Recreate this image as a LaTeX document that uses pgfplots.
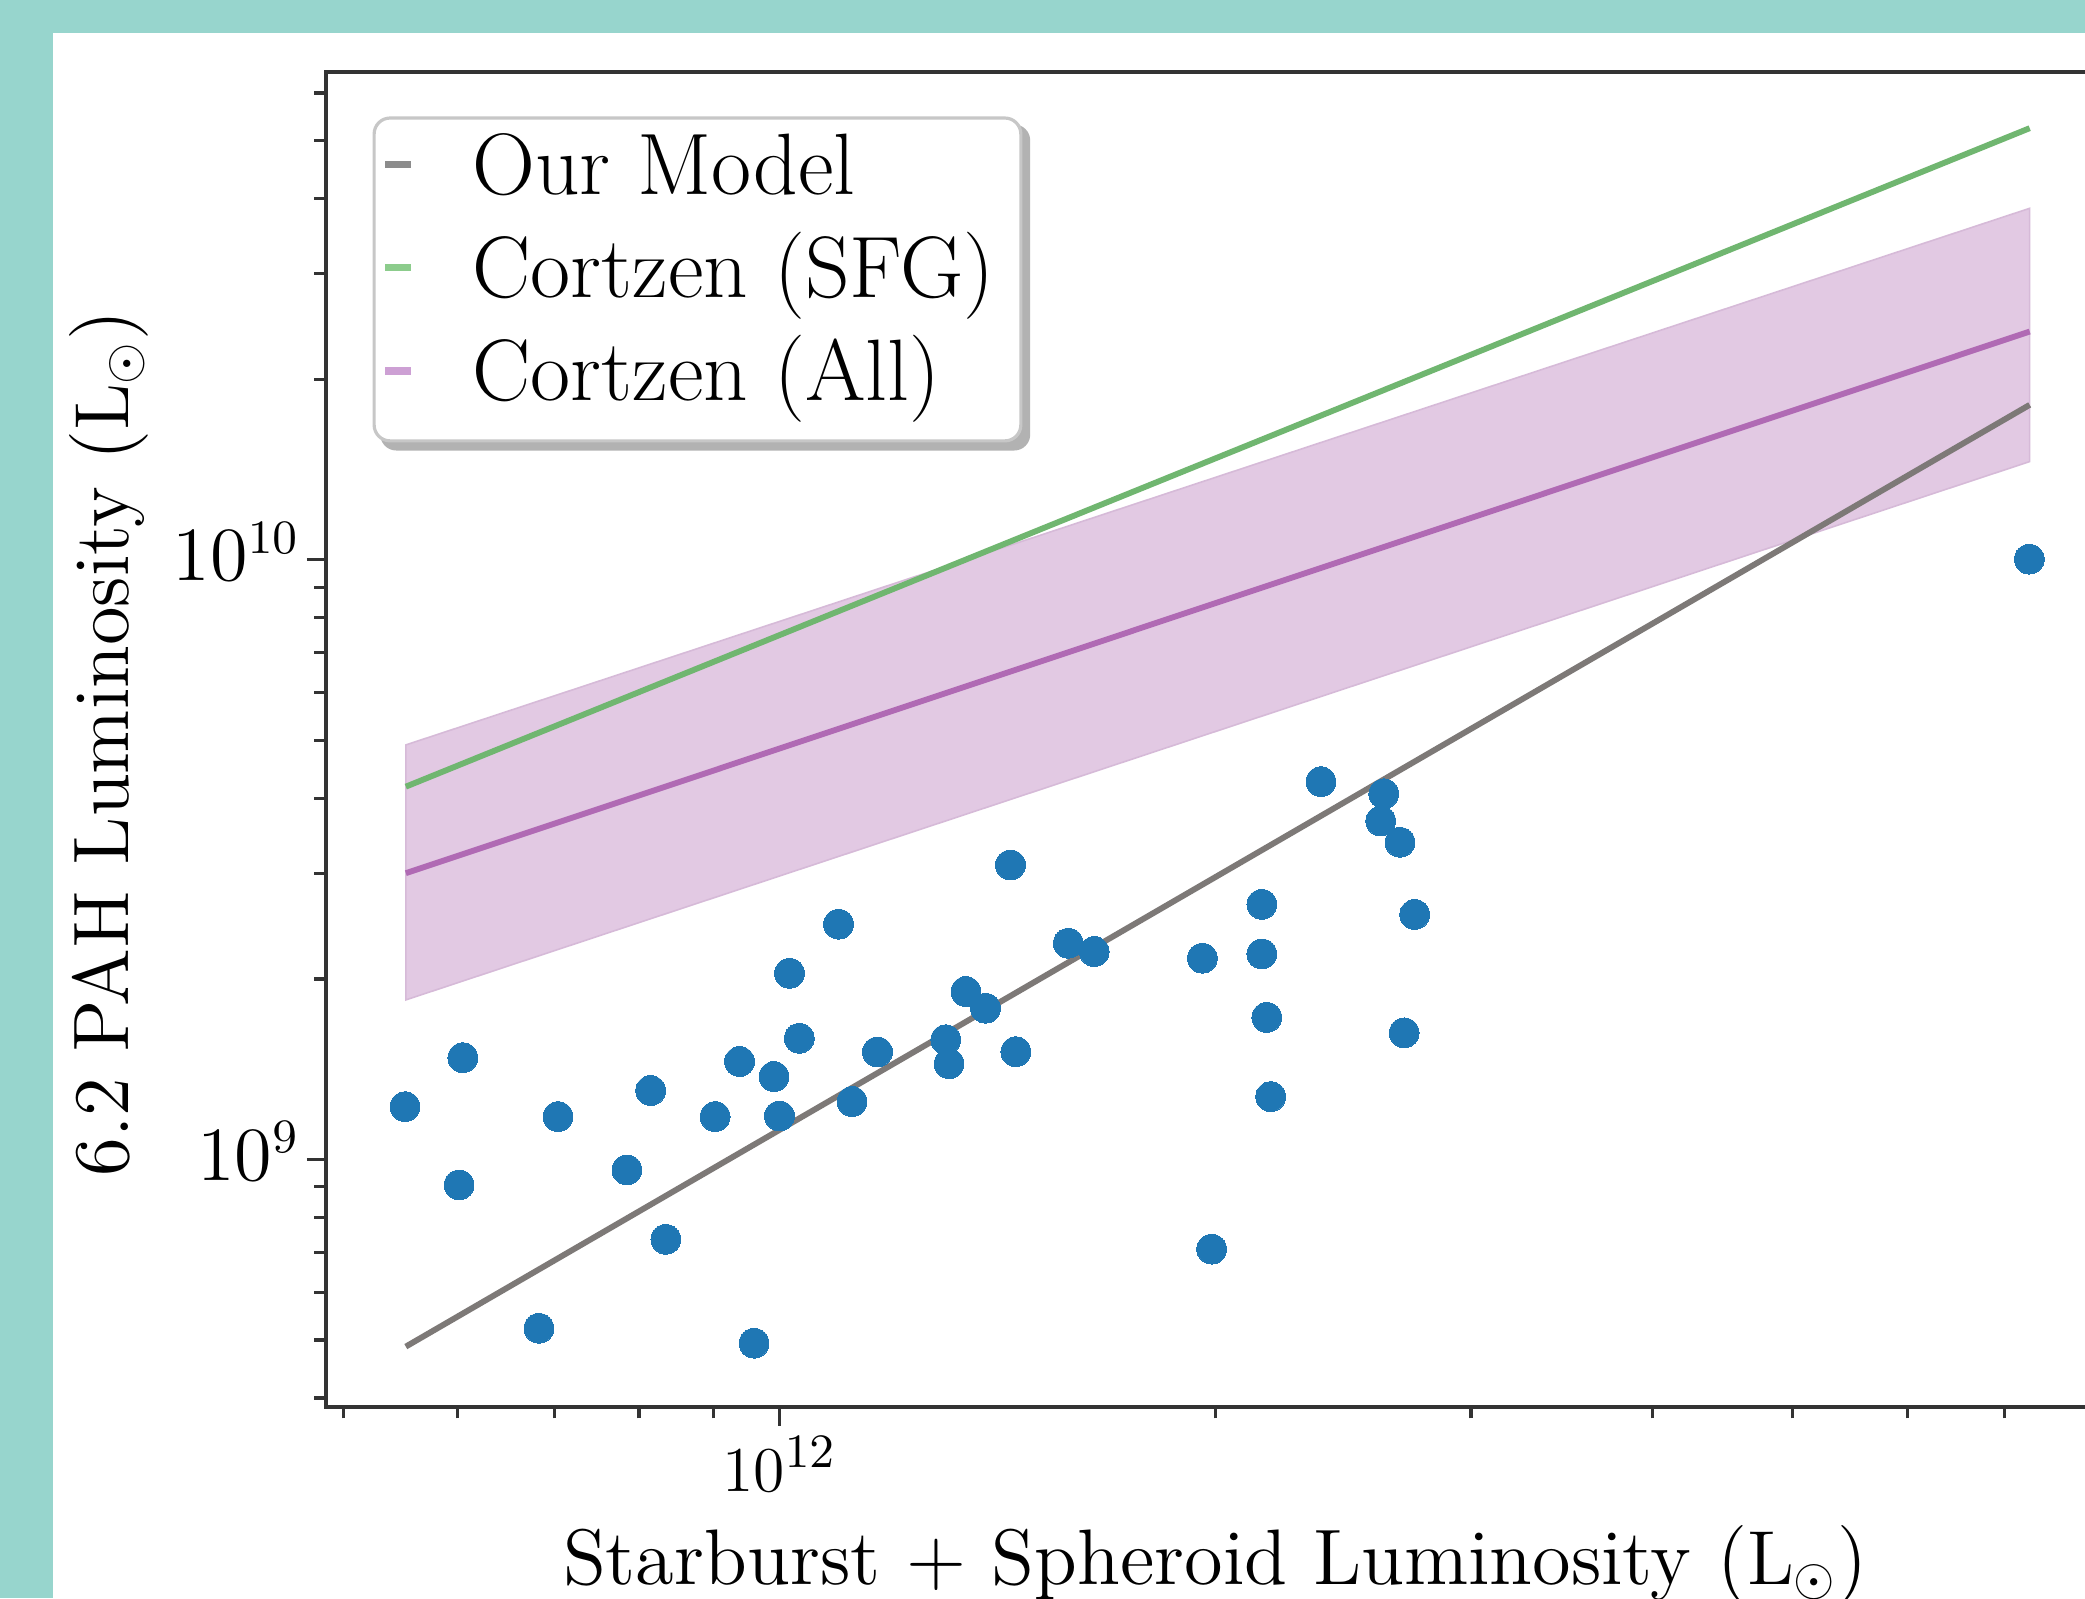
\documentclass[border=0pt]{standalone}
\usepackage{pgfplots}
\pgfplotsset{compat=1.18}
\definecolor{bgteal}{HTML}{97D5CD}
\definecolor{dotblue}{HTML}{1F77B4}
\definecolor{modgray}{RGB}{125,121,119}
\definecolor{sfggreen}{RGB}{112,182,112}
\definecolor{allpurple}{RGB}{176,106,180}
\definecolor{bandc}{RGB}{226,201,227}
\definecolor{bandedge}{RGB}{214,186,216}
\definecolor{lgray}{RGB}{140,140,140}
\definecolor{lgreen}{RGB}{140,204,140}
\definecolor{lpurple}{RGB}{205,160,212}
\pgfdeclarelayer{bg}
\pgfdeclarelayer{shad}
\pgfsetlayers{bg,shad,main}
\begin{document}
\begin{tikzpicture}
\useasboundingbox (0,0) rectangle (392pt,300.5pt);
\begin{pgfonlayer}{bg}
\fill[bgteal] (0,0) rectangle (392pt,300.5pt);
\fill[white] (10pt,0) rectangle (392pt,294.25pt);
\end{pgfonlayer}
\clip (0,0) rectangle (392pt,300.5pt);
\begin{axis}[
  at={(61.25pt,36.0pt)}, anchor=south west,
  scale only axis, width=335.5pt, height=251pt,
  xmode=log, ymode=log,
  xmin=4.866e11, xmax=8.284e12,
  ymin=3.869e8, ymax=6.512e10,
  xtick={1e12}, ytick={1e9,1e10},
  minor xtick={5e11,6e11,7e11,8e11,9e11,2e12,3e12,4e12,5e12,6e12,7e12,8e12},
  minor ytick={4e8,5e8,6e8,7e8,8e8,9e8,2e9,3e9,4e9,5e9,6e9,7e9,8e9,9e9,2e10,3e10,4e10,5e10,6e10},
  tick align=outside, tick pos=left,
  major tick length=3.6pt, minor tick length=2.2pt,
  axis line style={black!80, line width=0.75pt},
  tick style={black!80, line width=0.6pt},
  xticklabel style={font=\fontsize{13.2}{16}\selectfont, anchor=base, yshift=-12.25pt},
  yticklabel style={font=\fontsize{13.5}{16}\selectfont, anchor=base east, inner xsep=0pt, xshift=-1.15pt, yshift=-4pt},
  xlabel={Starburst + Spheroid Luminosity ($\mathrm{L}_\odot$)},
  ylabel={6.2 PAH Luminosity ($\mathrm{L}_\odot$)},
  xlabel style={font=\fontsize{14.8}{17}\selectfont, at={(axis description cs:0.4985,0)}, anchor=base, yshift=-33.4pt},
  ylabel style={font=\fontsize{14.8}{17}\selectfont, at={(axis description cs:-0.1105,0.497)}, anchor=base},
  legend cell align=left,
  legend style={name=leg, at={(axis description cs:0,1)}, anchor=north west, xshift=8.75pt, yshift=-8.4pt,
    draw=black!22, fill=white, rounded corners=3pt, line width=0.6pt,
    inner xsep=1.4pt, inner ysep=2.4pt, row sep=2.3pt, column sep=0pt,
    font=\fontsize{16.4}{20}\selectfont,
    nodes={inner xsep=0pt, inner ysep=0pt, text height=12pt, text depth=5.1pt}},
  legend image code/.code={\draw[#1, line width=1.4pt, sharp corners] (0pt,2.2pt) -- (4.9pt,2.2pt); \path (0pt,0pt) (16.1pt,0pt);},
]
\addlegendimage{lgray}\addlegendentry{Our Model}
\addlegendimage{lgreen}\addlegendentry{Cortzen (SFG)\hspace*{3.6pt}}
\addlegendimage{lpurple}\addlegendentry{Cortzen (All)}

\addplot[fill=bandc, draw=bandedge, line width=0.3pt, forget plot] coordinates {
(5.524e11,1.845e9) (7.287e12,1.4577e10) (7.287e12,3.855e10) (5.524e11,4.911e9)} -- cycle;
\addplot[allpurple, line width=1.1pt, forget plot] coordinates {(5.524e11,3.001e9) (7.287e12,2.401e10)};
\addplot[sfggreen, line width=1.1pt, forget plot] coordinates {(5.524e11,4.184e9) (7.287e12,5.243e10)};
\addplot[modgray, line width=1.1pt, forget plot] coordinates {(5.524e11,4.874e8) (7.287e12,1.8124e10)};

\addplot[only marks, mark=*, mark size=2.8pt, mark options={fill=dotblue, draw=dotblue, line width=0pt}, forget plot] table {
x y
5.517e11 1.2244e9
6.048e11 1.478e9
6.012e11 9.067e8
6.825e11 5.229e8
7.035e11 1.1787e9
7.849e11 9.605e8
8.150e11 1.3026e9
8.349e11 7.359e8
9.029e11 1.1787e9
9.386e11 1.4562e9
9.605e11 4.938e8
9.913e11 1.3745e9
1.000e12 1.1816e9
1.0162e12 2.0434e9
1.0320e12 1.5922e9
1.0985e12 2.4672e9
1.1222e12 1.2488e9
1.1684e12 1.5108e9
1.3024e12 1.5834e9
1.3092e12 1.4442e9
1.3448e12 1.905e9
1.3874e12 1.787e9
1.4434e12 3.0976e9
1.4558e12 1.5122e9
1.5822e12 2.2933e9
1.6489e12 2.2211e9
1.9580e12 2.1652e9
1.9870e12 7.086e8
2.1517e12 2.6628e9
2.1517e12 2.2009e9
2.1687e12 1.7251e9
2.1822e12 1.2725e9
2.3634e12 4.2647e9
2.6115e12 4.0715e9
2.5989e12 3.6667e9
2.6796e12 3.3796e9
2.7431e12 2.5612e9
2.6977e12 1.6258e9
7.2828e12 1.0021e10
};
\end{axis}
\begin{pgfonlayer}{shad}
\fill[black, opacity=0.3, rounded corners=3pt] ([shift={(1.5pt,-1.5pt)}]leg.south west) rectangle ([shift={(1.5pt,-1.5pt)}]leg.north east);
\end{pgfonlayer}
\end{tikzpicture}
\end{document}
